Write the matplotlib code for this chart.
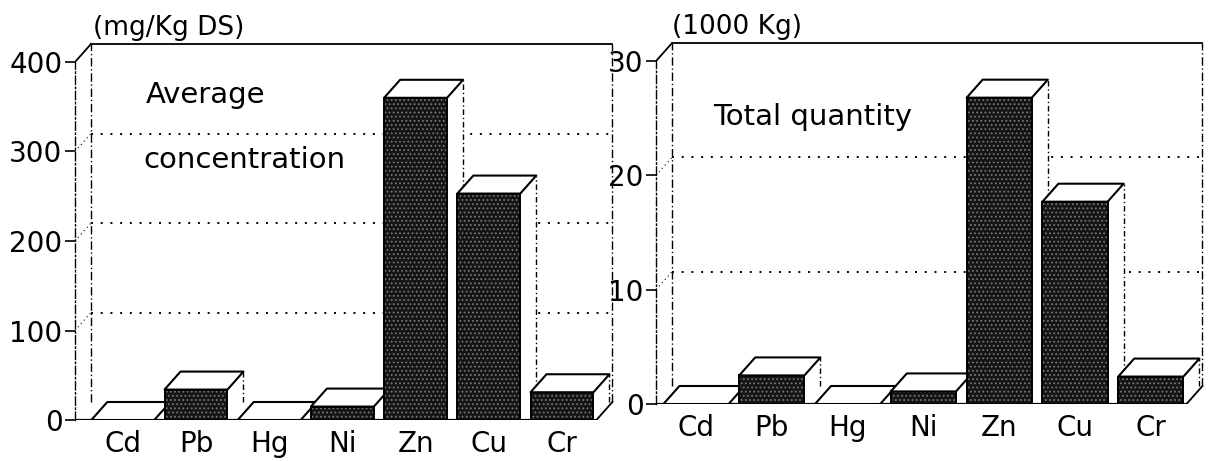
import matplotlib
matplotlib.use("Agg")
import matplotlib.pyplot as plt
from matplotlib.patches import Polygon

plt.rcParams["font.family"] = ["DejaVu Sans"]
plt.rcParams["hatch.color"] = "#777777"
plt.rcParams["hatch.linewidth"] = 0.8

# values
METALS = ["Cd", "Pb", "Hg", "Ni", "Zn", "Cu", "Cr"]
AVG_CONC = [0, 34, 0, 15, 360, 253, 31]          # mg/Kg DS
TOTAL_QTY = [0, 2.5, 0, 1.1, 26.8, 17.7, 2.4]    # 1000 Kg
CONC_TICKS = [0, 100, 200, 300, 400]
QTY_TICKS = [0, 10, 20, 30]

W, H = 1208, 461
DEPTH_PX = (16, 18)   # 3d offset of the back wall / bar tops
BAR_W = 0.86


def pixel_axes(fig, left, bottom, width, height, x_left, x_step, y_step):
    """axes placed in pixels, data scale given as pixels per unit"""
    ax = fig.add_axes([left / W, bottom / H, width / W, height / H])
    ax.set_xlim(x_left, x_left + width / x_step)
    ax.set_ylim(0, height / y_step)
    ax.patch.set_alpha(0)
    return ax


def draw_panel(ax, values, ticks, x_step, y_step):
    dx = DEPTH_PX[0] / x_step
    dy = DEPTH_PX[1] / y_step
    xl = ax.get_xlim()[0]
    xr = len(values) - 1 + BAR_W / 2 + 0.04
    top = ticks[-1]

    for s in ["top", "right", "bottom"]:
        ax.spines[s].set_visible(False)
    ax.spines["left"].set_bounds(0, top)
    ax.spines["left"].set_linestyle((0, (6, 2, 1, 2)))
    ax.spines["left"].set_linewidth(1.0)

    ax.set_yticks(ticks)
    ax.tick_params(axis="y", direction="out", length=7, width=1.2,
                   labelsize=20, pad=2)
    ax.set_xticks(range(len(values)), METALS)
    ax.tick_params(axis="x", length=0, labelsize=20, pad=7)

    # walls
    dash_dot = (0, (6, 2, 1, 2))
    ax.plot([xl + dx, xl + dx], [dy, top + dy], color="k", lw=1.0, ls=dash_dot, zorder=1)
    ax.plot([xr + dx, xr + dx], [dy, top + dy], color="k", lw=1.0, ls=dash_dot, zorder=1)
    ax.plot([xl + dx, xr + dx], [top + dy, top + dy], color="k", lw=1.3, zorder=1)
    ax.plot([xl, xl + dx], [top, top + dy], color="k", lw=1.3, zorder=1)
    for t in ticks[1:-1]:
        ax.plot([xl + dx, xr + dx], [t + dy, t + dy], color="k", lw=1.4,
                ls=(0, (1, 4)), zorder=1)
        ax.plot([xl, xl + dx], [t, t + dy], color="k", lw=0.8, ls=(0, (1, 3)), zorder=1)
    ax.plot([xl, xr], [0, 0], color="k", lw=1.6, zorder=2, solid_capstyle="butt")
    ax.plot([xr, xr + dx], [0, dy], color="k", lw=1.3, zorder=2)

    # 3d bars, left to right so each front face covers the previous side
    fronts = ax.bar(range(len(values)), values, BAR_W, color="#151515",
                    hatch="....", edgecolor="#777777", linewidth=0)
    outlines = ax.bar(range(len(values)), values, BAR_W, fill=False,
                      edgecolor="k", linewidth=1.4)
    for i, v in enumerate(values):
        l, r = i - BAR_W / 2, i + BAR_W / 2
        z = 3 + 3 * i
        side = Polygon([(r, 0), (r, v), (r + dx, v + dy), (r + dx, dy)],
                       closed=True, facecolor="white", edgecolor="none", zorder=z)
        ax.add_patch(side)
        ax.plot([r + dx, r + dx], [dy, v + dy], color="k", lw=1.0,
                ls=(0, (4, 2, 1, 2)), zorder=z)
        fronts[i].set_zorder(z + 1)
        outlines[i].set_zorder(z + 1)
        lid = Polygon([(l, v), (r, v), (r + dx, v + dy), (l + dx, v + dy)],
                      closed=True, facecolor="white", edgecolor="k", lw=1.5,
                      joinstyle="round", zorder=z + 2)
        ax.add_patch(lid)


fig = plt.figure(figsize=(W / 100, H / 100), dpi=100)

# left panel: average concentration
ax1 = pixel_axes(fig, 75, 41, 550, 400, x_left=-0.653, x_step=73.2, y_step=0.895)
draw_panel(ax1, AVG_CONC, CONC_TICKS, 73.2, 0.895)
ax1.text(0.033, 0.98, "(mg/Kg DS)", transform=ax1.transAxes, fontsize=19,
         va="center", ha="left", clip_on=False)
ax1.text(0.129, 0.8125, "Average", transform=ax1.transAxes, fontsize=21,
         va="center", ha="left")
ax1.text(0.125, 0.65, "concentration", transform=ax1.transAxes, fontsize=21,
         va="center", ha="left")

# right panel: total quantity
ax2 = pixel_axes(fig, 656, 57, 552, 400, x_left=-0.528, x_step=75.8, y_step=11.43)
draw_panel(ax2, TOTAL_QTY, QTY_TICKS, 75.8, 11.43)
ax2.text(0.029, 0.9425, "(1000 Kg)", transform=ax2.transAxes, fontsize=19,
         va="center", ha="left", clip_on=False)
ax2.text(0.104, 0.7175, "Total quantity", transform=ax2.transAxes, fontsize=21,
         va="center", ha="left")

fig.savefig("out.png", dpi=100)
